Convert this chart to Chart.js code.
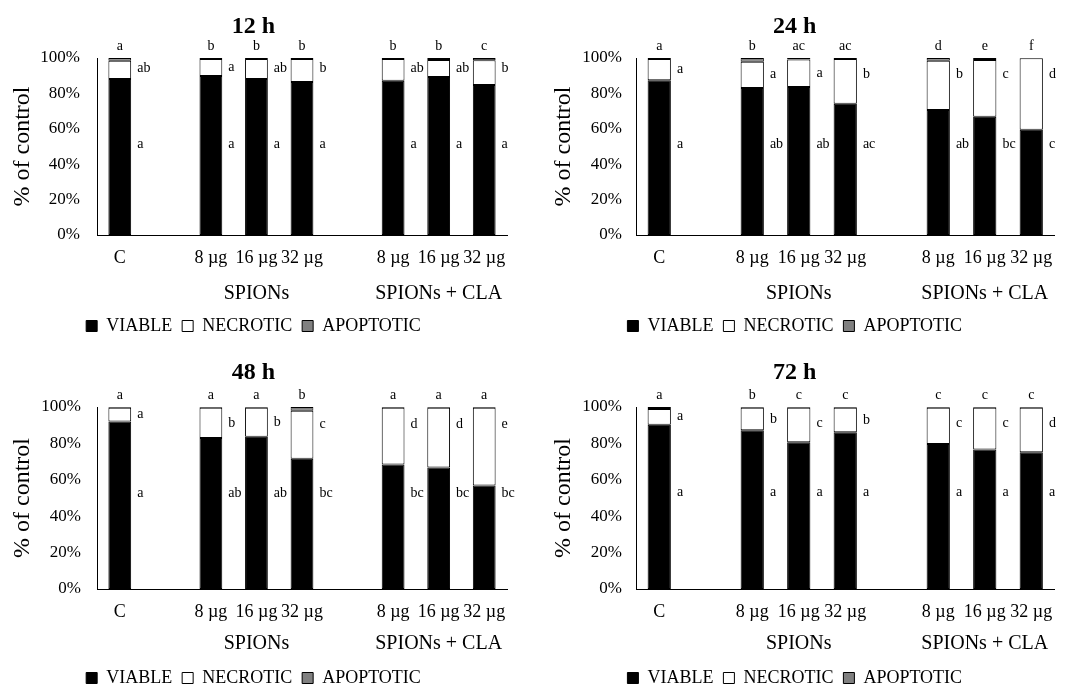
<!DOCTYPE html>
<html>
<head>
<meta charset="utf-8">
<script src="https://cdn.jsdelivr.net/npm/chart.js@4.4.1/dist/chart.umd.min.js"></script>
<style>
  html, body { margin: 0; padding: 0; background: #fff; overflow: hidden; }
  #wrap { position: relative; width: 1070px; height: 689px; overflow: hidden; }
  .panel { position: absolute; width: 535px; }
</style>
</head>
<body>
<div id="wrap">
  <div class="panel" style="left:0;top:0;height:345px"><canvas id="c12"></canvas></div>
  <div class="panel" style="left:535px;top:0;height:345px"><canvas id="c24"></canvas></div>
  <div class="panel" style="left:0;top:345px;height:352px"><canvas id="c48"></canvas></div>
  <div class="panel" style="left:535px;top:345px;height:352px"><canvas id="c72"></canvas></div>
</div>
<script>
const categories = ['C', '', '8 µg', '16 µg', '32 µg', '', '8 µg', '16 µg', '32 µg'];
const groupLabels = ['', '', '', 'SPIONs', '', '', '', 'SPIONs + CLA', ''];

const viable12 = [88.1, null, 89.8, 88.1, 86.4, null, 87.2, 89.2, 84.7];
const necrotic12 = [10.4, null, 9.6, 11.3, 13.0, null, 12.2, 9.7, 14.0];
const apoptotic12 = [1.5, null, 0.6, 0.6, 0.6, null, 0.6, 1.1, 1.3];
const topLetters12 = ['a', '', 'b', 'b', 'b', '', 'b', 'b', 'c'];
const necLetters12 = ['ab', '', 'a', 'ab', 'b', '', 'ab', 'ab', 'b'];
const viaLetters12 = ['a', '', 'a', 'a', 'a', '', 'a', 'a', 'a'];

const viable24 = [87.5, null, 83.0, 83.6, 74.2, null, 70.6, 66.8, 59.4];
const necrotic24 = [11.9, null, 14.9, 15.6, 25.2, null, 27.9, 32.0, 40.4];
const apoptotic24 = [0.6, null, 2.1, 0.8, 0.6, null, 1.5, 1.2, 0.2];
const topLetters24 = ['a', '', 'b', 'ac', 'ac', '', 'd', 'e', 'f'];
const necLetters24 = ['a', '', 'a', 'a', 'b', '', 'b', 'c', 'd'];
const viaLetters24 = ['a', '', 'ab', 'ab', 'ac', '', 'ab', 'bc', 'c'];

const viable48 = [92.1, null, 83.0, 83.7, 71.5, null, 68.4, 66.7, 56.9];
const necrotic48 = [7.5, null, 16.6, 15.9, 26.5, null, 31.2, 32.9, 42.7];
const apoptotic48 = [0.4, null, 0.4, 0.4, 2.0, null, 0.4, 0.4, 0.4];
const topLetters48 = ['a', '', 'a', 'a', 'b', '', 'a', 'a', 'a'];
const necLetters48 = ['a', '', 'b', 'b', 'c', '', 'd', 'd', 'e'];
const viaLetters48 = ['a', '', 'ab', 'ab', 'bc', '', 'bc', 'bc', 'bc'];

const viable72 = [90.3, null, 87.2, 80.6, 86.1, null, 79.7, 76.7, 75.1];
const necrotic72 = [8.6, null, 12.4, 19.0, 13.5, null, 19.9, 22.9, 24.5];
const apoptotic72 = [1.1, null, 0.4, 0.4, 0.4, null, 0.4, 0.4, 0.4];
const topLetters72 = ['a', '', 'b', 'c', 'c', '', 'c', 'c', 'c'];
const necLetters72 = ['a', '', 'b', 'c', 'b', '', 'c', 'c', 'd'];
const viaLetters72 = ['a', '', 'a', 'a', 'a', '', 'a', 'a', 'a'];

const serif = "'Liberation Serif', 'Times New Roman', serif";
Chart.defaults.font.family = serif;
Chart.defaults.color = '#000';

// significance letters: above the bar, next to necrotic part, next to viable part
const letterPlugin = {
    id: 'sigLetters',
    afterDraw(chart, args, opts) {
        const ctx = chart.ctx;
        const y = chart.scales.y;
        const meta = chart.getDatasetMeta(0);
        const viable = chart.data.datasets[0].data;
        const necrotic = chart.data.datasets[1].data;
        ctx.save();
        ctx.font = '14px ' + serif;
        ctx.fillStyle = '#000';
        ctx.textBaseline = 'middle';
        meta.data.forEach((bar, i) => {
            if (!opts.top[i]) return;
            const right = bar.x + bar.width / 2 + 6;
            ctx.textAlign = 'center';
            ctx.fillText(opts.top[i], bar.x, y.getPixelForValue(100) - 12);
            ctx.textAlign = 'left';
            const necLevel = Math.max(opts.necLevel, viable[i] + necrotic[i] / 2);
            ctx.fillText(opts.nec[i], right, y.getPixelForValue(necLevel));
            ctx.fillText(opts.via[i], right, y.getPixelForValue(opts.viaLevel));
        });
        ctx.restore();
    }
};

function buildChart(id, title, viable, necrotic, apoptotic, letters, g) {
    return new Chart(document.getElementById(id), {
        type: 'bar',
        data: {
            labels: categories,
            datasets: [
                { label: 'VIABLE', data: viable, backgroundColor: '#000', borderColor: '#000', borderWidth: 1, borderSkipped: false },
                { label: 'NECROTIC', data: necrotic, backgroundColor: '#fff', borderColor: '#000', borderWidth: 1, borderSkipped: false },
                { label: 'APOPTOTIC', data: apoptotic, backgroundColor: '#808080', borderColor: '#000', borderWidth: 1, borderSkipped: false }
            ]
        },
        options: {
            responsive: true,
            maintainAspectRatio: false,
            animation: false,
            datasets: { bar: { barPercentage: 0.5, categoryPercentage: 1 } },
            layout: { padding: { left: 0, right: g.padRight, top: 0, bottom: 0 } },
            plugins: {
                title: {
                    display: true,
                    text: title,
                    color: '#000',
                    font: { size: 24, weight: 'bold' },
                    padding: { top: g.titleTop, bottom: g.titleBottom }
                },
                legend: {
                    position: 'bottom',
                    labels: { boxWidth: 11, boxHeight: 11, padding: 10, color: '#000', font: { size: 18 } }
                },
                tooltip: { enabled: false },
                sigLetters: letters
            },
            scales: {
                x: {
                    stacked: true,
                    grid: { display: false, drawTicks: false },
                    border: { color: '#000', width: 1 },
                    ticks: { padding: g.xPad, autoSkip: false, maxRotation: 0, minRotation: 0, font: { size: 18 } },
                    afterFit: s => { s.height = g.xHeight; }
                },
                x2: {
                    type: 'category',
                    labels: groupLabels,
                    position: 'bottom',
                    weight: 1,
                    grid: { display: false, drawTicks: false },
                    border: { display: false },
                    ticks: { padding: g.x2Pad, autoSkip: false, maxRotation: 0, minRotation: 0, font: { size: 20 } },
                    afterFit: s => { s.height = g.x2Height; }
                },
                y: {
                    stacked: true,
                    min: 0,
                    max: 100,
                    grid: { display: false, drawTicks: false },
                    border: { color: '#000', width: 1 },
                    ticks: {
                        stepSize: 20,
                        padding: g.tickPad,
                        font: { size: 17 },
                        callback: v => v + '%'
                    },
                    title: {
                        display: true,
                        text: '% of control',
                        font: { size: 24 },
                        padding: { top: g.yTitlePad, bottom: 0 }
                    },
                    afterFit: s => { s.width = g.left; }
                }
            }
        },
        plugins: [letterPlugin]
    });
}

const topGeom = { titleTop: 12.6, titleBottom: 16.6, xPad: 12.2, xHeight: 35, x2Pad: 11.6, x2Height: 37 };
const bottomGeom = { titleTop: 13.6, titleBottom: 19.6, xPad: 12.2, xHeight: 35, x2Pad: 7.6, x2Height: 35 };

buildChart('c12', '12 h', viable12, necrotic12, apoptotic12,
    { top: topLetters12, nec: necLetters12, via: viaLetters12, necLevel: 94, viaLevel: 51 },
    Object.assign({ left: 97, padRight: 28, tickPad: 17, yTitlePad: 8.4 }, topGeom));
buildChart('c24', '24 h', viable24, necrotic24, apoptotic24,
    { top: topLetters24, nec: necLetters24, via: viaLetters24, necLevel: 91, viaLevel: 51 },
    Object.assign({ left: 101, padRight: 15.5, tickPad: 14, yTitlePad: 14 }, topGeom));
buildChart('c48', '48 h', viable48, necrotic48, apoptotic48,
    { top: topLetters48, nec: necLetters48, via: viaLetters48, necLevel: 90.5, viaLevel: 52.5 },
    Object.assign({ left: 97, padRight: 28, tickPad: 16, yTitlePad: 8.4 }, bottomGeom));
buildChart('c72', '72 h', viable72, necrotic72, apoptotic72,
    { top: topLetters72, nec: necLetters72, via: viaLetters72, necLevel: 91, viaLevel: 53 },
    Object.assign({ left: 101, padRight: 15.5, tickPad: 14, yTitlePad: 14 }, bottomGeom));
</script>
</body>
</html>
